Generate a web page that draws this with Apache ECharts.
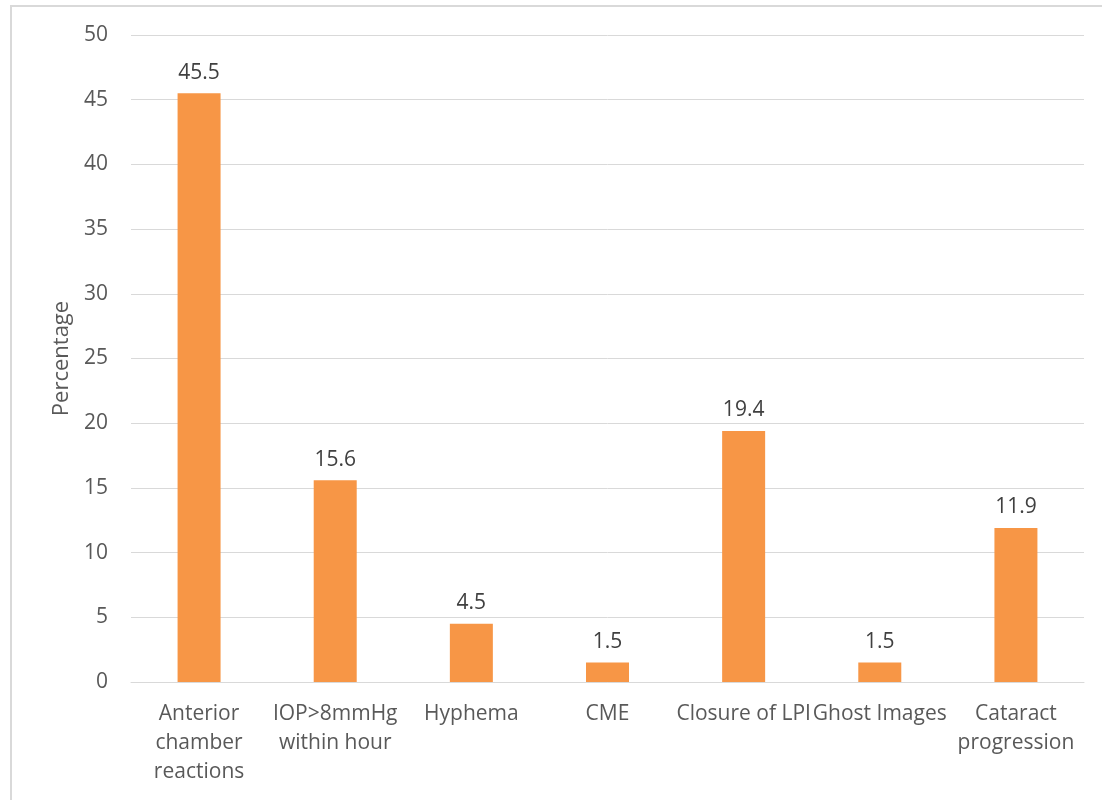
<!DOCTYPE html>
<html>
<head>
<meta charset="utf-8">
<script src="https://cdn.jsdelivr.net/npm/echarts@6/dist/echarts.min.js"></script>
<style>
  html, body { margin: 0; padding: 0; background: #fff; }
  #main { width: 1102px; height: 800px; }
</style>
</head>
<body>
<div id="main"></div>
<script>
// data
const categories = [
  'Anterior\nchamber\nreactions',
  'IOP>8mmHg\nwithin hour',
  'Hyphema',
  'CME',
  'Closure of LPI',
  'Ghost Images',
  'Cataract\nprogression'
];
const percentages = [45.5, 15.6, 4.5, 1.5, 19.4, 1.5, 11.9];

const fontFamily = '"Open Sans", "Liberation Sans", sans-serif';

// 初始化图表
const chart = echarts.init(document.getElementById('main'));

chart.setOption({
  animation: false,
  textStyle: { fontFamily: fontFamily },
  graphic: [
    {
      type: 'rect',
      shape: { x: 11, y: 6, width: 1100, height: 820 },
      style: { fill: 'none', stroke: '#d9d9d9', lineWidth: 2 },
      silent: true
    }
  ],
  grid: { left: 131, right: 18, top: 35, bottom: 118 },
  xAxis: {
    type: 'category',
    data: categories,
    axisTick: { show: false },
    axisLine: { lineStyle: { color: '#d9d9d9', width: 1 } },
    axisLabel: {
      interval: 0,
      margin: 18,
      color: '#595959',
      fontSize: 21,
      lineHeight: 29,
      fontFamily: fontFamily
    }
  },
  yAxis: {
    type: 'value',
    min: 0,
    max: 50,
    interval: 5,
    name: 'Percentage',
    nameLocation: 'middle',
    nameGap: 56,
    nameTextStyle: { color: '#595959', fontSize: 22, fontFamily: fontFamily },
    axisLine: { show: false },
    axisTick: { show: false },
    axisLabel: { margin: 23, color: '#595959', fontSize: 21, fontFamily: fontFamily },
    splitLine: { lineStyle: { color: '#d9d9d9', width: 1 } }
  },
  series: [
    {
      type: 'bar',
      data: percentages,
      barWidth: 43,
      itemStyle: { color: '#F79646' },
      label: {
        show: true,
        position: 'top',
        distance: 10,
        color: '#404040',
        fontSize: 21,
        fontFamily: fontFamily
      }
    }
  ]
});
</script>
</body>
</html>
